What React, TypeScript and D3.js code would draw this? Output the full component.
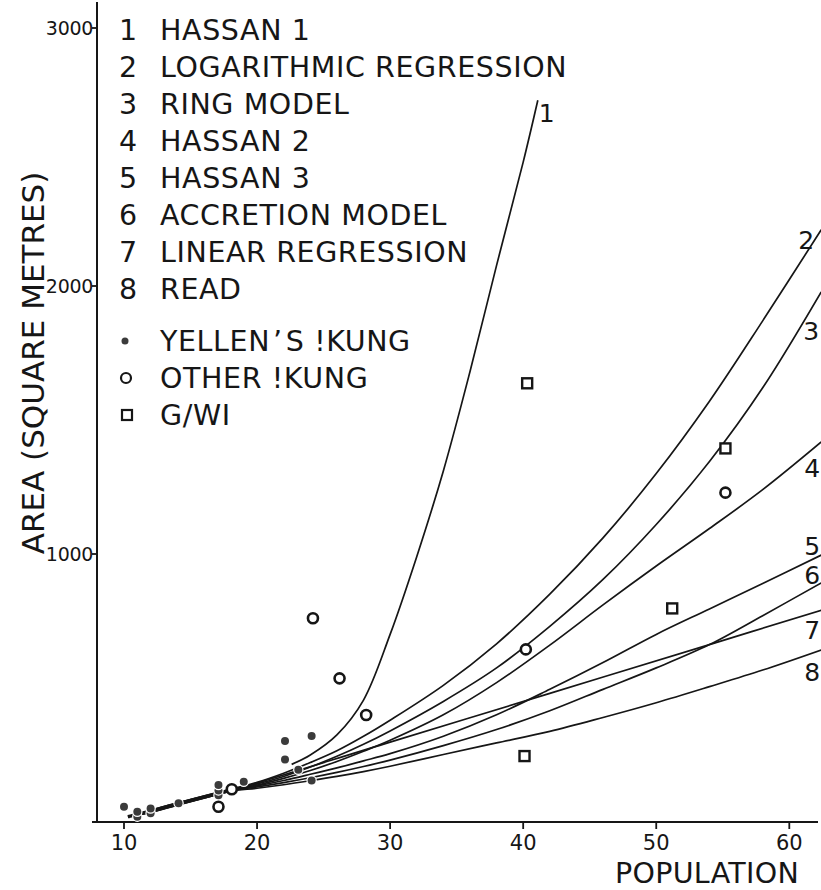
import React from "react";
import * as d3 from "d3";

// ---------- data (population, area in square metres) ----------
const hassan1: [number, number][] = [
  [22.6, 215], [24, 250], [26, 325], [28, 455], [30, 700], [32, 990],
  [34, 1310], [36, 1680], [38, 2080], [40, 2480], [41.1, 2720],
];
const logRegression: [number, number][] = [
  [10.3, 20], [12, 44], [14, 71], [16, 97],
  [18, 122], [20, 148], [22, 182], [24, 222], [26, 266], [28, 320], [30, 380],
  [34, 510], [38, 665], [42, 850], [46, 1060], [50, 1300], [54, 1570], [58, 1870], [62.4, 2218],
];
const ringModel: [number, number][] = [
  [10.3, 20], [12, 43], [14, 70], [16, 96],
  [18, 120], [20, 142], [22, 170], [24, 205], [26, 245], [28, 290], [30, 340],
  [34, 450], [38, 575], [42, 730], [46, 905], [50, 1110], [54, 1345], [58, 1620], [62.4, 1978],
];
const hassan2: [number, number][] = [
  [10.3, 20], [12, 41], [14, 68], [16, 94],
  [18, 119], [20, 138], [22, 163], [24, 192], [26, 226], [28, 264], [30, 305],
  [34, 400], [38, 520], [42, 660], [46, 810], [50, 955], [54, 1095], [58, 1240], [62.4, 1418],
];
const hassan3: [number, number][] = [
  [10.3, 20], [12, 40], [14, 67], [16, 93],
  [18, 118], [20, 135], [22, 155], [24, 178], [26, 202], [28, 228], [30, 255],
  [34, 320], [38, 400], [42, 495], [46, 595], [50, 700], [54, 795], [58, 890], [62.4, 996],
];
const accretionModel: [number, number][] = [
  [10.3, 20], [12, 39], [14, 66], [16, 92],
  [18, 117], [20, 131], [22, 147], [24, 165], [26, 185], [28, 207], [30, 231],
  [34, 285], [38, 345], [42, 415], [46, 495], [50, 575], [54, 662], [58, 770], [62.4, 892],
];
const linearRegression: [number, number][] = [
  [10.3, 20], [12, 37], [14, 64], [16, 90],
  [18, 116], [30, 298], [42, 480], [54, 662], [62.4, 790],
];
const readModel: [number, number][] = [
  [10.3, 20], [12, 36], [14, 63], [16, 89],
  [18, 115], [20, 126], [22, 139], [24, 154], [26, 170], [28, 188], [30, 208],
  [34, 252], [38, 295], [42, 338], [46, 390], [50, 445], [54, 505], [58, 567], [62.4, 642],
];

const curveNumbers = ["1", "2", "3", "4", "5", "6", "7", "8"];
const curveNames = [
  "HASSAN 1",
  "LOGARITHMIC REGRESSION",
  "RING MODEL",
  "HASSAN 2",
  "HASSAN 3",
  "ACCRETION MODEL",
  "LINEAR REGRESSION",
  "READ",
];

const yellenKung: [number, number][] = [
  [10, 57], [11, 20], [11, 38], [12, 33], [12, 50], [14.1, 70],
  [17.1, 100], [17.1, 118], [17.1, 138], [19, 150],
  [22.1, 302], [24.1, 321], [22.1, 233], [23.1, 195], [24.1, 155],
];
const otherKung: [number, number][] = [
  [17.1, 57], [18.1, 122], [24.2, 760], [26.2, 536], [28.2, 399], [40.2, 644], [55.2, 1229],
];
const gwi: [number, number][] = [
  [40.3, 1637], [55.2, 1394], [51.2, 797], [40.1, 246],
];
const markerNames = ["YELLEN\u2019S !KUNG", "OTHER !KUNG", "G/WI"];

const xTicks = [10, 20, 30, 40, 50, 60];
const yTicks = [1000, 2000, 3000];
const xTitle = "POPULATION";
const yTitle = "AREA (SQUARE METRES)";

// ---------- component ----------
export default function App() {
  const W = 821;
  const H = 890;
  const ink = "#161616";
  const font = "'DejaVu Sans', sans-serif";

  const x = d3.scaleLinear().domain([10, 60]).range([124, 789.3]);
  const y = d3.scaleLinear().domain([0, 1000, 2000, 3000]).range([822, 554, 286, 28]);

  const line = d3
    .line<[number, number]>()
    .x((d) => x(d[0]))
    .y((d) => y(d[1]))
    .curve(d3.curveCatmullRom.alpha(0.5));

  const curves = [
    hassan1, logRegression, ringModel, hassan2, hassan3, accretionModel, linearRegression, readModel,
  ];
  const labelOffsets = [
    [9, 13], [-15, 10], [-10, 39], [-9, 26], [-9, -9], [-9, -8], [-9, 20], [-9, 22],
  ];

  // the overlapping common part of curves 2-8 (first five points), drawn as one heavier stroke
  const bundle = curves.slice(1);
  const trunk: [number, number][] = d3.range(5).map((k) => [
    d3.mean(bundle, (c) => c[k][0]) as number,
    d3.mean(bundle, (c) => c[k][1]) as number,
  ]);

  const axisX = 97;
  const axisY = 822;

  const legendY0 = 30;
  const legendStep = 36.9;
  const legendFs = 28.5;
  const legendSpacing = 0.6;
  const markerLegendY = [341, 378, 415];

  const renderName = (name: string) => {
    const parts = name.split("\u2019");
    if (parts.length === 1) return name;
    return (
      <>
        <tspan>{parts[0]}</tspan>
        <tspan dx={3}>{"\u2019"}</tspan>
        <tspan dx={3}>{parts[1]}</tspan>
      </>
    );
  };

  return (
    <svg
      width={W}
      height={H}
      style={{ position: "absolute", left: 0, top: 0, background: "#fff" }}
      fontFamily={font}
    >
      <rect x={0} y={0} width={W} height={H} fill="#fff" />

      {/* axes */}
      <line x1={axisX} y1={2} x2={axisX} y2={axisY + 1} stroke={ink} strokeWidth={2} />
      <line x1={92} y1={axisY} x2={818} y2={axisY} stroke={ink} strokeWidth={2} />
      {yTicks.map((t) => (
        <g key={"yt" + t}>
          <line x1={92} x2={axisX} y1={y(t)} y2={y(t)} stroke={ink} strokeWidth={1.8} />
          <text
            x={93}
            y={y(t) + 7}
            textAnchor="end"
            fontSize={19}
            letterSpacing={-0.3}
            fill={ink}
          >
            {t}
          </text>
        </g>
      ))}
      {xTicks.map((t) => (
        <g key={"xt" + t}>
          <line x1={x(t)} x2={x(t)} y1={axisY} y2={axisY + 7} stroke={ink} strokeWidth={1.8} />
          <text x={x(t)} y={850} textAnchor="middle" fontSize={21} fill={ink}>
            {t}
          </text>
        </g>
      ))}
      <text x={615} y={883} fontSize={28.5} letterSpacing={0.3} fill={ink}>
        {xTitle}
      </text>
      <text
        transform={`translate(44, 363) rotate(-90)`}
        textAnchor="middle"
        fontSize={31}
        fill={ink}
      >
        {yTitle}
      </text>

      {/* curves */}
      <path d={line(trunk) || ""} fill="none" stroke="#444" strokeWidth={3.6} />
      {curves.map((c, i) => (
        <path key={"c" + i} d={line(c) || ""} fill="none" stroke={ink} strokeWidth={1.7} />
      ))}
      {curves.map((c, i) => {
        const last = c[c.length - 1];
        return (
          <text
            key={"cl" + i}
            x={x(last[0]) + labelOffsets[i][0]}
            y={y(last[1]) + labelOffsets[i][1]}
            dy="0.36em"
            textAnchor="middle"
            fontSize={25}
            fill={ink}
          >
            {curveNumbers[i]}
          </text>
        );
      })}

      {/* data points */}
      {yellenKung.map((d, i) => (
        <circle
          key={"yk" + i}
          cx={x(d[0])}
          cy={y(d[1])}
          r={4}
          fill="#3b3b3b"
          stroke="#fff"
          strokeWidth={2.5}
          style={{ paintOrder: "stroke" }}
        />
      ))}
      {otherKung.map((d, i) => (
        <circle
          key={"ok" + i}
          cx={x(d[0])}
          cy={y(d[1])}
          r={5}
          fill="#fff"
          stroke={ink}
          strokeWidth={2.6}
        />
      ))}
      {gwi.map((d, i) => (
        <rect
          key={"g" + i}
          x={x(d[0]) - 5}
          y={y(d[1]) - 5}
          width={10}
          height={10}
          fill="#fff"
          stroke={ink}
          strokeWidth={2.4}
        />
      ))}

      {/* legend */}
      {curveNames.map((name, i) => {
        const cy = legendY0 + i * legendStep;
        return (
          <g key={"lg" + i}>
            <text x={119} y={cy + 10.4} fontSize={legendFs} fill={ink}>
              {curveNumbers[i]}
            </text>
            <text x={160} y={cy + 10.4} fontSize={legendFs} letterSpacing={legendSpacing} fill={ink}>
              {name}
            </text>
          </g>
        );
      })}
      <circle cx={125} cy={markerLegendY[0]} r={3.5} fill="#3b3b3b" />
      <circle cx={126} cy={markerLegendY[1]} r={5} fill="#fff" stroke={ink} strokeWidth={2.2} />
      <rect
        x={122}
        y={markerLegendY[2] - 5}
        width={10}
        height={10}
        fill="#fff"
        stroke={ink}
        strokeWidth={2.2}
      />
      {markerNames.map((name, i) => (
        <text
          key={"mn" + i}
          x={160}
          y={markerLegendY[i] + 10.4}
          fontSize={legendFs}
          letterSpacing={legendSpacing}
          fill={ink}
        >
          {renderName(name)}
        </text>
      ))}
    </svg>
  );
}
